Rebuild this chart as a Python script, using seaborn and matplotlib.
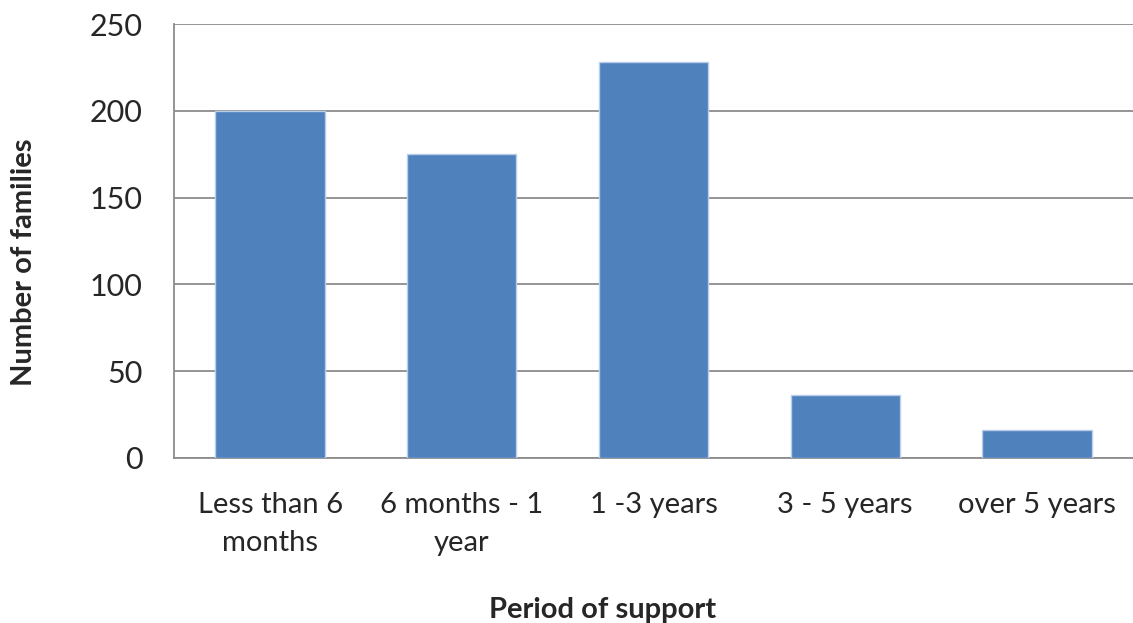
import matplotlib
matplotlib.use("Agg")
import matplotlib.pyplot as plt
import seaborn as sns
import pandas as pd

# values
periods = ["Less than 6\nmonths", "6 months - 1\nyear", "1 -3 years", "3 - 5 years", "over 5 years"]
families = [200, 175, 228, 36, 16]

df = pd.DataFrame({"period": periods, "families": families})

sns.set_style("white")
plt.rcParams["font.family"] = ["Lato", "DejaVu Sans"]

fig = plt.figure(figsize=(11.33, 6.23), dpi=100)
ax = fig.add_axes([0.1538, 0.2653, 0.846, 0.6957])

sns.barplot(data=df, x="period", y="families", color="#4F81BD", saturation=1,
            width=0.57, edgecolor="#b9cde8", linewidth=1, ax=ax, zorder=3)

ax.set_ylim(0, 250)
ax.set_xlim(-0.5, 4.5)
ax.set_yticks([0, 50, 100, 150, 200, 250])
ax.yaxis.grid(True, color="#8c8c8c", linewidth=1.3, zorder=0)
ax.set_axisbelow(True)

for s in ["top", "right"]:
    ax.spines[s].set_visible(False)
for s in ["left", "bottom"]:
    ax.spines[s].set_color("#8c8c8c")
    ax.spines[s].set_linewidth(1.3)

ax.tick_params(axis="y", length=0, pad=23, labelsize=22)
ax.tick_params(axis="x", length=0, pad=25, labelsize=21)
for lab in ax.get_xticklabels():
    lab.set_linespacing(1.55)

ax.set_xlabel("Period of support", fontsize=21, fontweight="bold")
ax.set_ylabel("Number of families", fontsize=21, fontweight="bold")
ax.xaxis.set_label_coords(0.447, -0.322)
ax.yaxis.set_label_coords(-0.143, 0.45)

fig.savefig("out.png", dpi=100)
